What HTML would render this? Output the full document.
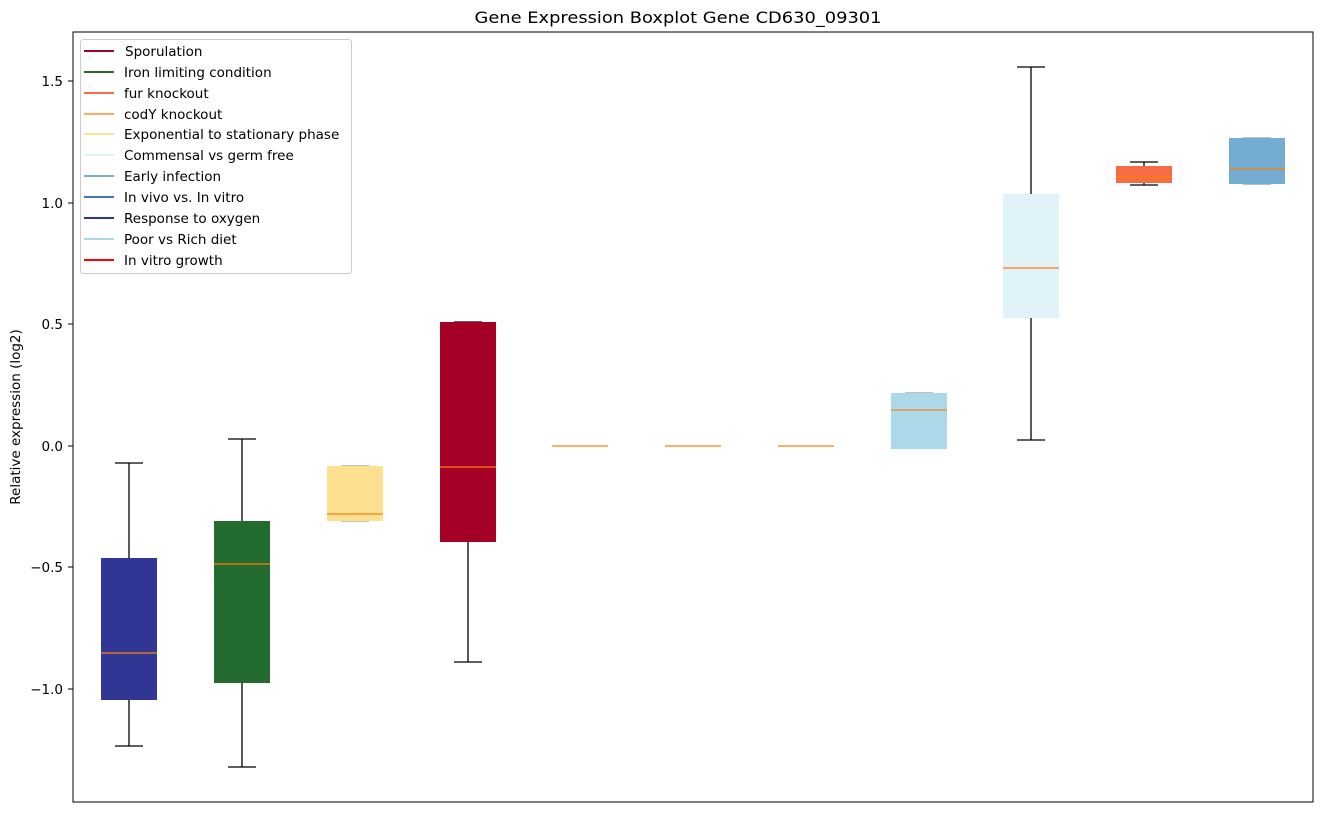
<!DOCTYPE html>
<html><head><meta charset="utf-8"><style>body{margin:0;background:#fff}</style></head><body>
<svg width="1322" height="812" xmlns="http://www.w3.org/2000/svg" font-family="DejaVu Sans, Liberation Sans, sans-serif">
<rect width="1322" height="812" fill="#fff"/>
<text x="678" y="23" font-size="16" text-anchor="middle" textLength="407" lengthAdjust="spacingAndGlyphs">Gene Expression Boxplot Gene CD630_09301</text>
<g stroke="#000" stroke-width="1.3">
<line x1="129" y1="463" x2="129" y2="746"/><line x1="115" y1="463" x2="143" y2="463"/><line x1="115" y1="746" x2="143" y2="746"/>
<line x1="242" y1="439" x2="242" y2="767"/><line x1="228" y1="439" x2="256" y2="439"/><line x1="228" y1="767" x2="256" y2="767"/>
<line x1="341" y1="466" x2="369" y2="466" stroke="#999"/><line x1="341" y1="521" x2="369" y2="521" stroke="#999"/>
<line x1="468" y1="322" x2="468" y2="662"/><line x1="454" y1="662" x2="482" y2="662"/><line x1="454" y1="322" x2="482" y2="322"/>
<line x1="1031" y1="67" x2="1031" y2="440"/><line x1="1017" y1="67" x2="1045" y2="67"/><line x1="1017" y1="440" x2="1045" y2="440"/>
<line x1="1144" y1="162" x2="1144" y2="185"/><line x1="1130" y1="162" x2="1158" y2="162"/><line x1="1130" y1="185" x2="1158" y2="185"/>
<line x1="905" y1="393" x2="933" y2="393" stroke="#999"/><line x1="1243" y1="138" x2="1271" y2="138" stroke="#999"/><line x1="1243" y1="184" x2="1271" y2="184" stroke="#999"/>
</g>
<rect x="101" y="558" width="56" height="142" fill="#313695"/>
<rect x="214" y="521" width="56" height="162" fill="#236b2e"/>
<rect x="327" y="466" width="56" height="55" fill="#fee090"/>
<rect x="440" y="322" width="56" height="220" fill="#a50026"/>
<rect x="891" y="393" width="56" height="56" fill="#abd9e9"/>
<rect x="1003" y="194" width="56" height="124" fill="#e0f3f8"/>
<rect x="1116" y="166" width="56" height="17" fill="#f46d43"/>
<rect x="1229" y="138" width="56" height="46" fill="#74add1"/>
<g stroke="#ff7f0e" stroke-width="1.3">
<line x1="101" y1="653" x2="157" y2="653"/><line x1="214" y1="564" x2="270" y2="564"/>
<line x1="327" y1="514" x2="383" y2="514"/><line x1="440" y1="467" x2="496" y2="467"/>
<line x1="552" y1="446" x2="608" y2="446"/><line x1="665" y1="446" x2="721" y2="446"/><line x1="778" y1="446" x2="834" y2="446"/>
<line x1="891" y1="410" x2="947" y2="410"/><line x1="1003" y1="268" x2="1059" y2="268"/>
<line x1="1116" y1="177" x2="1172" y2="177"/><line x1="1229" y1="169" x2="1285" y2="169"/>
</g>
<rect x="73" y="32" width="1240" height="770" fill="none" stroke="#000" stroke-width="1"/>
<g stroke="#000"><line x1="68" y1="81" x2="73" y2="81"/><line x1="68" y1="203" x2="73" y2="203"/><line x1="68" y1="324" x2="73" y2="324"/><line x1="68" y1="446" x2="73" y2="446"/><line x1="68" y1="567" x2="73" y2="567"/><line x1="68" y1="689" x2="73" y2="689"/></g>
<g font-size="13.5" text-anchor="end">
<text x="63" y="86">1.5</text><text x="63" y="208">1.0</text><text x="63" y="329">0.5</text><text x="63" y="451">0.0</text><text x="63" y="572">−0.5</text><text x="63" y="694">−1.0</text>
</g>
<text transform="translate(20,417) rotate(-90)" font-size="13.5" text-anchor="middle">Relative expression (log2)</text>
<rect x="80.5" y="39.5" width="271" height="234" rx="3" fill="#fff" fill-opacity="0.8" stroke="#ccc"/>
<g stroke-width="2">
<line x1="84" y1="51" x2="114" y2="51" stroke="#a50026"/>
<line x1="84" y1="72" x2="114" y2="72" stroke="#236b2e"/>
<line x1="84" y1="93" x2="114" y2="93" stroke="#f46d43"/>
<line x1="84" y1="114" x2="114" y2="114" stroke="#fdae61"/>
<line x1="84" y1="134" x2="114" y2="134" stroke="#fee090"/>
<line x1="84" y1="155" x2="114" y2="155" stroke="#e0f3f8"/>
<line x1="84" y1="176" x2="114" y2="176" stroke="#74add1"/>
<line x1="84" y1="197" x2="114" y2="197" stroke="#4575b4"/>
<line x1="84" y1="218" x2="114" y2="218" stroke="#313695"/>
<line x1="84" y1="239" x2="114" y2="239" stroke="#abd9e9"/>
<line x1="84" y1="260" x2="114" y2="260" stroke="#ff0000"/>
</g>
<g font-size="13.5">
<text x="125" y="56">Sporulation</text>
<text x="124" y="77">Iron limiting condition</text>
<text x="124" y="98">fur knockout</text>
<text x="124" y="119">codY knockout</text>
<text x="124" y="139">Exponential to stationary phase</text>
<text x="124" y="160">Commensal vs germ free</text>
<text x="124" y="181">Early infection</text>
<text x="124" y="202">In vivo vs. In vitro</text>
<text x="124" y="223">Response to oxygen</text>
<text x="124" y="244">Poor vs Rich diet</text>
<text x="124" y="265">In vitro growth</text>
</g>
</svg>
</body></html>
